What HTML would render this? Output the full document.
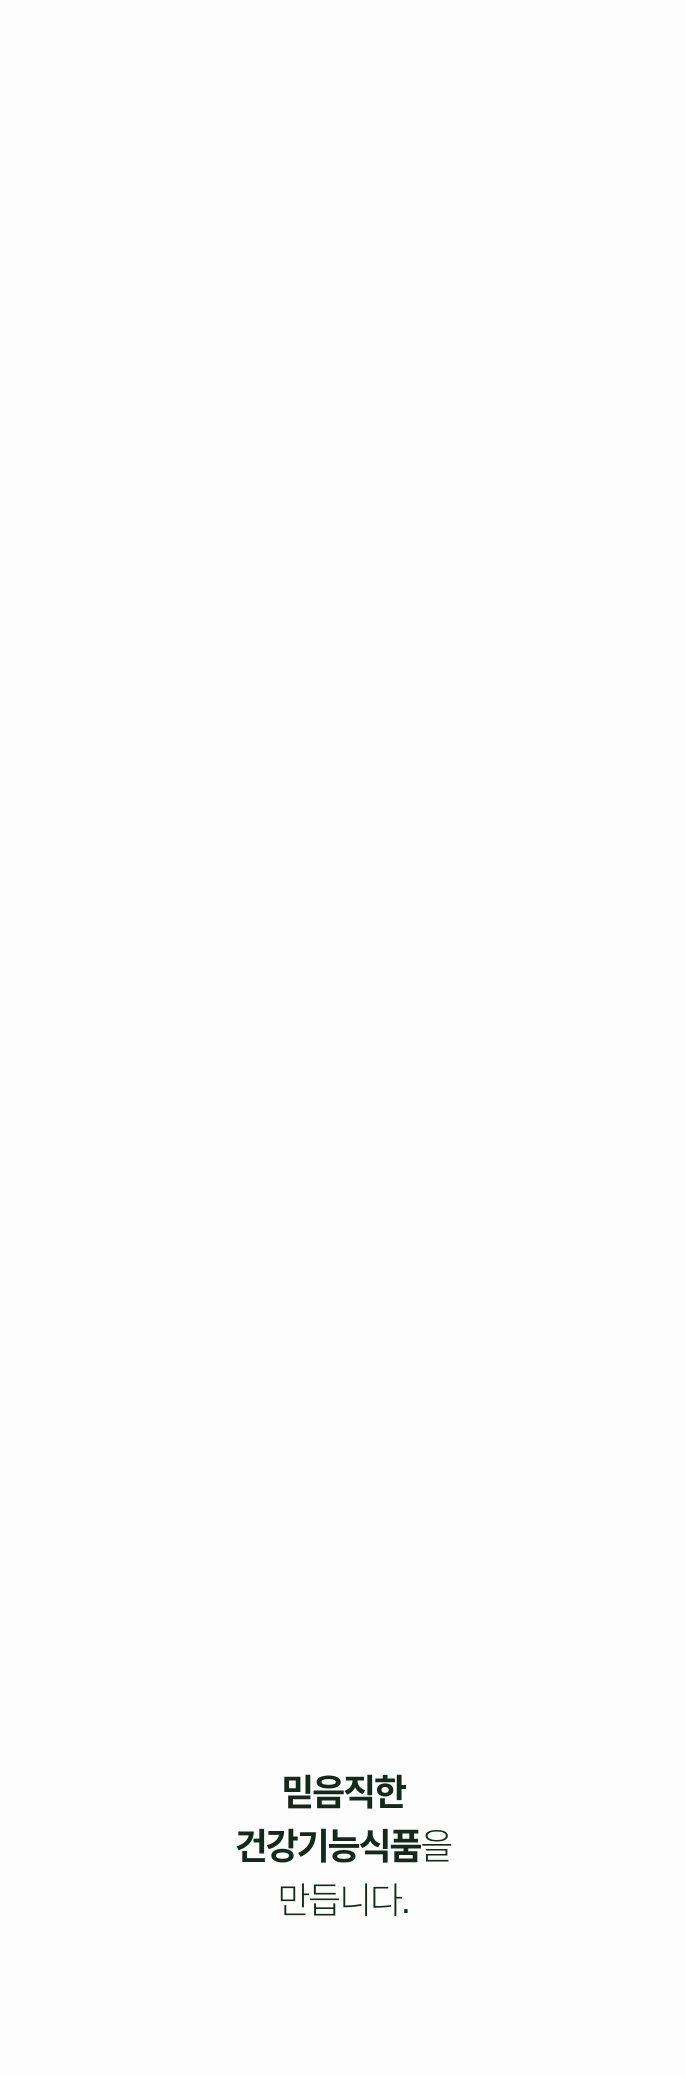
<!DOCTYPE html>
<html><head><meta charset="utf-8"><style>
html,body{margin:0;padding:0;background:#fdfdfd;}
body{width:686px;height:2076px;position:relative;overflow:hidden;}
.t{position:absolute;left:0;width:686px;top:1766px;text-align:center;font-family:"Liberation Sans","Noto Sans CJK KR",sans-serif;font-size:36px;line-height:54px;letter-spacing:-2.2px;color:#13291c;}
b{font-weight:700;}
.l{font-weight:300;}
</style></head><body>
<div class="t"><b>믿음직한</b><br><b>건강기능식품</b><span class="l">을</span><br><span class="l">만듭니다.</span></div>
</body></html>
